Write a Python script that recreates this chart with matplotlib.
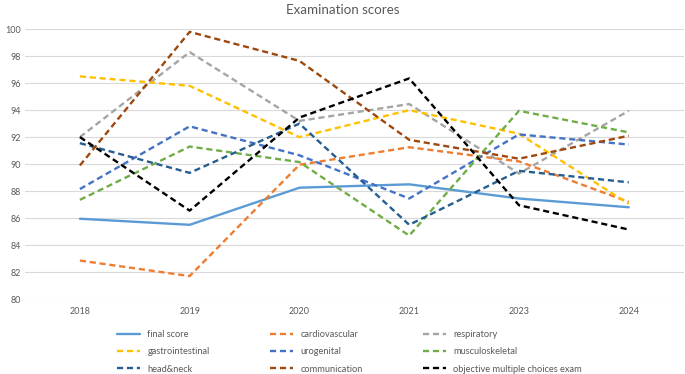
"""Examination scores per year, one line per exam part (Excel-style line chart)."""
import matplotlib
matplotlib.use('Agg')
import matplotlib.pyplot as plt
import numpy as np

# ---------------------------------------------------------------------------
# Data
# ---------------------------------------------------------------------------
YEARS = ['2018', '2019', '2020', '2021', '2023', '2024']

final_score = [85.95, 85.5, 88.25, 88.5, 87.45, 86.8]
cardiovascular = [82.85, 81.7, 89.95, 91.25, 90.2, 87.2]
respiratory = [92.0, 98.3, 93.2, 94.45, 89.3, 93.95]
gastrointestinal = [96.5, 95.8, 92.0, 94.0, 92.25, 87.05]
urogenital = [88.15, 92.8, 90.65, 87.45, 92.2, 91.45]
musculoskeletal = [87.35, 91.3, 90.15, 84.7, 93.95, 92.35]
head_neck = [91.55, 89.35, 93.0, 85.5, 89.5, 88.65]
communication = [89.9, 99.8, 97.65, 91.8, 90.4, 92.1]
objective_mcq = [92.0, 86.55, 93.45, 96.35, 86.95, 85.15]

SERIES = [
    ('final score', final_score, '#5B9BD5', '-'),
    ('cardiovascular', cardiovascular, '#ED7D31', '--'),
    ('respiratory', respiratory, '#A5A5A5', '--'),
    ('gastrointestinal', gastrointestinal, '#FFC000', '--'),
    ('urogenital', urogenital, '#4472C4', '--'),
    ('musculoskeletal', musculoskeletal, '#70AD47', '--'),
    ('head&neck', head_neck, '#255E91', '--'),
    ('communication', communication, '#9E480E', '--'),
    ('objective multiple choices exam', objective_mcq, '#000000', '--'),
]

# ---------------------------------------------------------------------------
# Style
# ---------------------------------------------------------------------------
plt.rcParams.update({
    'font.family': ['Lato', 'DejaVu Sans'],
    'font.size': 7,
})
TEXT_GRAY = '#595959'


def main():
    fig = plt.figure(figsize=(6.85, 3.74), dpi=100)
    ax = fig.add_axes([0.0365, 0.2005, 0.9615, 0.7215])

    x = np.arange(len(YEARS))
    handles = {}
    for label, values, color, style in SERIES:
        line, = ax.plot(x, values, linestyle=style, color=color,
                        linewidth=1.7, label=label, solid_capstyle='round')
        if style == '--':
            line.set_dashes((2.6, 1.6))
        handles[label] = line

    ax.set_xlim(-0.5, len(YEARS) - 0.5)
    ax.set_ylim(80, 100)
    ax.set_yticks(np.arange(80, 101, 2))
    ax.set_xticks(x)
    ax.set_xticklabels(YEARS)
    ax.tick_params(length=0, colors=TEXT_GRAY, labelsize=6.5, pad=6)
    ax.tick_params(axis='y', pad=3)
    ax.grid(axis='y', color='#D9D9D9', linewidth=0.8)
    ax.set_axisbelow(True)
    for s in ax.spines.values():
        s.set_visible(False)

    fig.suptitle('Examination scores', x=0.5, y=0.99, fontsize=9.6,
                 color=TEXT_GRAY)

    # matplotlib fills legend columns first, so reorder to read row-wise
    order = ['final score', 'gastrointestinal', 'head&neck',
             'cardiovascular', 'urogenital', 'communication',
             'respiratory', 'musculoskeletal', 'objective multiple choices exam']
    leg = fig.legend([handles[k] for k in order], order, ncol=3,
                     loc='upper left', bbox_to_anchor=(0.171, 0.118),
                     frameon=False, fontsize=6.7, handlelength=2.5,
                     handletextpad=0.75, columnspacing=6.5, labelspacing=0.9,
                     borderaxespad=0, borderpad=0)
    for t in leg.get_texts():
        t.set_color(TEXT_GRAY)

    fig.savefig('out.png', dpi=100)
    plt.close()


if __name__ == '__main__':
    main()
